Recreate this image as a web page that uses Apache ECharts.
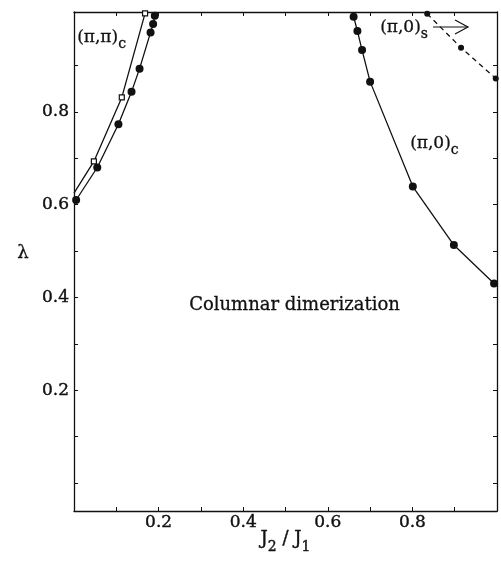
<!DOCTYPE html>
<html>
<head>
<meta charset="utf-8">
<script src="https://cdn.jsdelivr.net/npm/echarts@6/dist/echarts.min.js"></script>
<style>
  html, body { margin: 0; padding: 0; background: #fff; }
  #chart { width: 501px; height: 565px; }
</style>
</head>
<body>
<div id="chart"></div>
<script>
// J2/J1 on x, lambda on y
const ppcSquares = [[0.0, 0.625], [0.047, 0.693], [0.113, 0.831], [0.168, 1.012]];
const ppcCircles = [[0.005, 0.61], [0.055, 0.68], [0.105, 0.773], [0.136, 0.843], [0.155, 0.893],
  [0.181, 0.971], [0.187, 0.989], [0.191, 1.007]];
const p0c = [[0.661, 1.005], [0.670, 0.974], [0.681, 0.933], [0.700, 0.865], [0.801, 0.639],
  [0.898, 0.513], [0.993, 0.43]];
const p0s = [[0.835, 1.011], [0.915, 0.938], [0.997, 0.872]];

const xTicks = [0.1, 0.2, 0.3, 0.4, 0.5, 0.6, 0.7, 0.8, 0.9];
const xLabels = [0.2, 0.4, 0.6, 0.8];
const yTicks = [0, 0.1, 0.2, 0.3, 0.4, 0.5, 0.6, 0.7, 0.8, 0.9];
const yLabels = [0.2, 0.4, 0.6, 0.8];

const chart = echarts.init(document.getElementById('chart'));
const FONT = 'DejaVu Serif';
const INK = '#111';

function frameAxis(pos, isX, withLabels) {
  const ax = {
    type: 'value',
    position: pos,
    min: isX ? 0 : -0.06,
    max: isX ? 1 : 1.015,
    axisLine: { show: true, onZero: false, lineStyle: { color: INK, width: 1.3 } },
    axisTick: { show: true, inside: true, length: 4, customValues: isX ? xTicks : yTicks,
      lineStyle: { color: INK, width: 1 } },
    axisLabel: { show: withLabels, customValues: isX ? xLabels : yLabels,
      fontFamily: FONT, fontSize: 17, color: INK, margin: isX ? 3 : 5,
      textBorderColor: INK, textBorderWidth: 0.4,
      formatter: v => v.toFixed(1) },
    splitLine: { show: false }
  };
  return ax;
}

const xMain = frameAxis('bottom', true, true);
xMain.name = '{b|J}{s|2}{b| / J}{s|1}';
xMain.nameLocation = 'middle';
xMain.nameGap = 19;
xMain.nameMoveOverlap = false;
xMain.nameTextStyle = {
  rich: {
    b: { fontFamily: FONT, fontSize: 18, color: INK, lineHeight: 24, verticalAlign: 'top',
      textBorderColor: INK, textBorderWidth: 0.4 },
    s: { fontFamily: FONT, fontSize: 14, color: INK, lineHeight: 24, verticalAlign: 'bottom',
      textBorderColor: INK, textBorderWidth: 0.4 }
  }
};

const lineStyle = { color: INK, width: 1.3 };

// label with subscript, drawn as rich text
function subLabel(main, sub, left, top) {
  return {
    type: 'text', left: left, top: top,
    style: {
      text: '{m|' + main + '}{s|' + sub + '}',
      rich: {
        m: { fontFamily: FONT, fontSize: 17, fill: INK, lineHeight: 22, verticalAlign: 'top',
          stroke: INK, lineWidth: 0.3 },
        s: { fontFamily: FONT, fontSize: 14, fill: INK, lineHeight: 22, verticalAlign: 'bottom',
          stroke: INK, lineWidth: 0.3 }
      }
    }
  };
}

chart.setOption({
  animation: false,
  backgroundColor: '#fff',
  grid: { left: 74, right: 4, top: 12, bottom: 54 },
  xAxis: [xMain, frameAxis('top', true, false)],
  yAxis: [frameAxis('left', false, true), frameAxis('right', false, false)],
  series: [
    {
      type: 'line', data: ppcSquares, clip: true,
      symbol: (v) => v[0] === 0 ? 'none' : 'rect', symbolSize: 5,
      itemStyle: { color: '#fff', borderColor: INK, borderWidth: 1.2 },
      lineStyle: lineStyle
    },
    {
      type: 'line', data: ppcCircles, clip: true,
      symbol: 'circle', symbolSize: 8,
      itemStyle: { color: INK }, lineStyle: lineStyle
    },
    {
      type: 'line', data: p0c, clip: true,
      symbol: 'circle', symbolSize: 8,
      itemStyle: { color: INK }, lineStyle: lineStyle
    },
    {
      type: 'line', data: p0s, clip: true,
      symbol: 'circle', symbolSize: 6,
      itemStyle: { color: INK },
      lineStyle: { color: INK, width: 1.3, type: [5, 4] }
    }
  ],
  graphic: [
    {
      type: 'text', left: 17, top: 244,
      style: { text: 'λ', font: '18px ' + FONT, fill: INK, stroke: INK, lineWidth: 0.3 }
    },
    {
      type: 'text', left: 189, top: 296,
      style: { text: 'Columnar dimerization', font: '18px ' + FONT, fill: INK, stroke: INK, lineWidth: 0.3 }
    },
    subLabel('(π,π)', 'c', 77, 29),
    subLabel('(π,0)', 'c', 410, 135),
    subLabel('(π,0)', 's', 380, 19),
    {
      type: 'polyline',
      shape: { points: [[433, 27], [468, 27]] },
      style: { stroke: INK, lineWidth: 1.2, fill: null }
    },
    {
      type: 'polyline',
      shape: { points: [[455, 20], [468, 27], [455, 34]] },
      style: { stroke: INK, lineWidth: 1.2, fill: null }
    }
  ]
});
</script>
</body>
</html>
